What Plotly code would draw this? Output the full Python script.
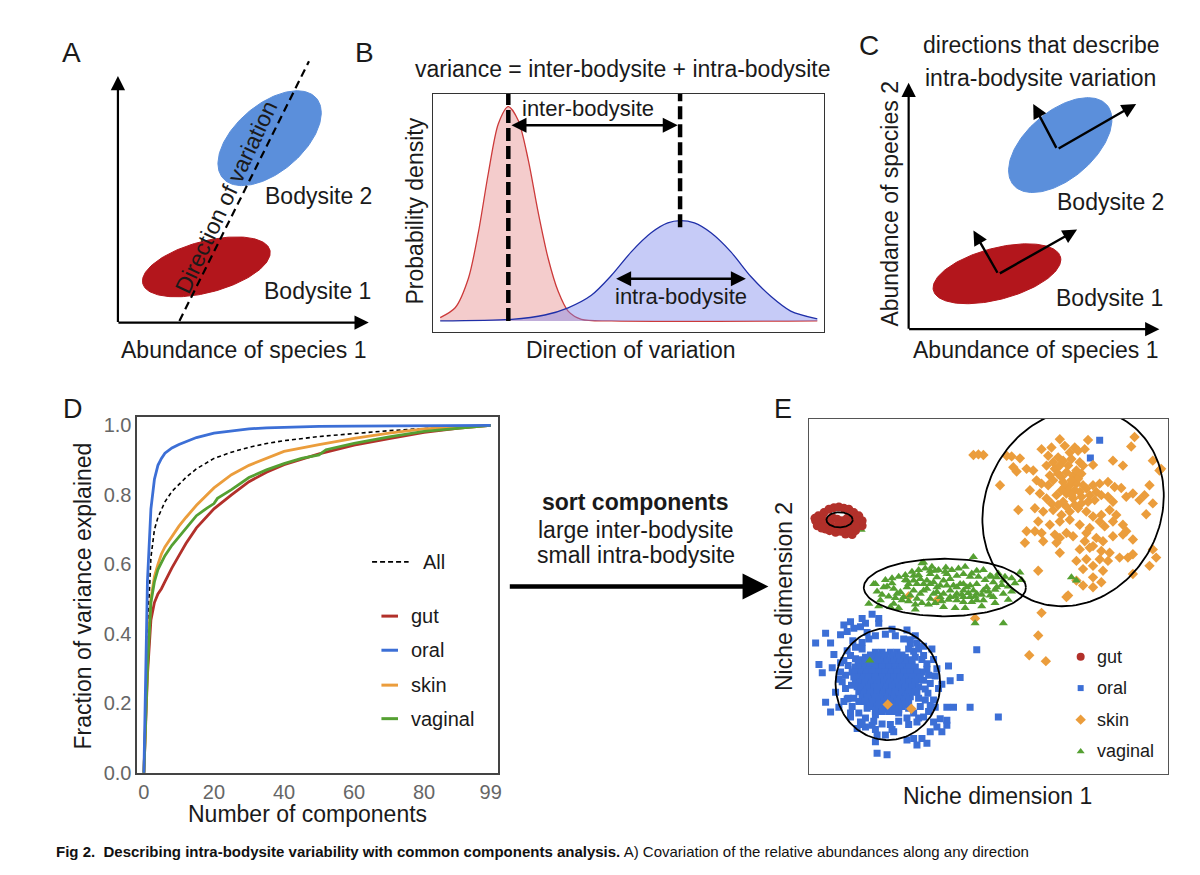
import math
import plotly.graph_objects as go

W, H = 1200, 875          # reference picture size
OFF = 8                   # page body margin of the html page
FW, FH = W - 2 * OFF, H - 2 * OFF
FONT = "Liberation Sans, Arial, Helvetica, sans-serif"
TXT = "#1a1a1a"

# ---------------- Panel D : cumulative fraction of variance ----------------
d_x = [0, 1, 2, 3, 4, 5, 6, 8, 10, 12, 15, 20, 25, 30, 35, 40, 50, 60, 70, 80, 90, 99]
d_all = [0, 0.40, 0.62, 0.70, 0.735, 0.76, 0.78, 0.81, 0.83, 0.85, 0.875, 0.905, 0.923, 0.937, 0.948, 0.956, 0.968, 0.977, 0.985, 0.991, 0.996, 1.0]
d_gut = [0, 0.28, 0.44, 0.49, 0.515, 0.53, 0.55, 0.59, 0.625, 0.66, 0.705, 0.76, 0.80, 0.838, 0.865, 0.887, 0.918, 0.943, 0.962, 0.98, 0.992, 1.0]
d_oral = [0, 0.55, 0.76, 0.845, 0.885, 0.905, 0.92, 0.935, 0.945, 0.953, 0.965, 0.978, 0.985, 0.99, 0.993, 0.995, 0.997, 0.998, 0.999, 1.0, 1.0, 1.0]
d_skin = [0, 0.33, 0.50, 0.565, 0.60, 0.63, 0.65, 0.68, 0.71, 0.735, 0.77, 0.82, 0.858, 0.885, 0.905, 0.925, 0.945, 0.963, 0.978, 0.99, 0.996, 1.0]
d_x_vag = [0, 1, 2, 3, 4, 5, 6, 8, 10, 12, 15, 18, 20, 21, 25, 30, 35, 40, 45, 50, 52, 60, 70, 80, 90, 99]
d_vag = [0, 0.30, 0.49, 0.55, 0.585, 0.605, 0.625, 0.655, 0.68, 0.705, 0.74, 0.762, 0.775, 0.79, 0.815, 0.85, 0.872, 0.89, 0.905, 0.915, 0.93, 0.948, 0.967, 0.983, 0.993, 1.0]
d_xticks = [0, 20, 40, 60, 80, 99]
d_yticks = [0.0, 0.2, 0.4, 0.6, 0.8, 1.0]

sites = ["gut", "oral", "skin", "vaginal"]
site_colors = {"gut": "#b2302a", "oral": "#3c6fd6", "skin": "#eb9d3c", "vaginal": "#55a032"}

# ---------------- Panel E : niche space (arbitrary units) ----------------
gut_pts = [(20, 770), (28, 785), (35, 755), (45, 795), (50, 745), (60, 805), (62, 740), (75, 810), (80, 735),
           (90, 812), (95, 738), (105, 808), (110, 730), (120, 805), (130, 728), (135, 795), (140, 740),
           (150, 785), (155, 765), (160, 755), (145, 770), (40, 775), (55, 770), (70, 780), (85, 775),
           (100, 770), (115, 778), (125, 765), (65, 760), (90, 758), (110, 755), (130, 780), (30, 765),
           (45, 760), (25, 755), (160, 770), (18, 778), (38, 748), (72, 745), (100, 745), (122, 742), (140, 752)]

vag_pts = [(495, 660), (412, 628), (340, 641), (315, 603), (365, 608), (385, 598), (405, 588), (425, 593),
           (445, 603), (465, 608), (485, 600), (505, 618), (525, 620), (545, 603), (565, 598), (585, 588),
           (635, 613), (195, 578), (225, 568), (255, 563), (275, 553), (295, 568), (315, 558), (335, 548),
           (355, 563), (375, 548), (395, 538), (405, 508), (425, 558), (445, 548), (465, 558), (485, 538),
           (505, 528), (525, 528), (545, 543), (585, 548), (565, 568), (180, 518), (215, 528), (255, 518),
           (245, 508), (295, 588), (325, 578), (345, 578), (365, 578), (385, 568), (415, 573), (435, 573),
           (455, 578), (475, 568), (495, 558), (505, 578), (535, 568), (555, 583), (265, 548), (285, 538),
           (305, 543), (325, 533), (365, 533), (445, 528), (465, 523), (490, 523), (405, 548), (315, 588),
           (335, 593), (355, 588), (375, 583), (395, 573), (445, 568), (465, 578), (485, 573), (300, 578),
           (345, 558), (385, 553), (425, 538), (465, 538), (505, 548), (525, 558), (345, 643), (380, 618),
           (365, 618), (200, 578), (235, 570), (415, 608), (500, 458), (585, 458), (790, 598), (805, 588),
           (183, 345), (157, 743), (555, 538),
           (230, 590), (250, 595), (270, 600), (290, 605), (310, 615), (330, 620), (350, 625), (370, 630),
           (390, 620), (410, 615), (430, 620), (450, 625), (470, 630), (490, 610), (510, 600), (530, 590),
           (550, 600), (570, 610), (590, 600), (610, 595), (620, 580), (600, 570), (580, 575), (560, 560),
           (540, 555), (520, 545), (500, 540), (480, 550), (460, 545), (440, 540), (420, 530), (400, 525),
           (380, 520), (360, 515), (340, 520), (320, 515), (300, 525), (280, 528), (260, 535), (240, 540),
           (220, 545), (205, 555), (210, 510), (270, 505), (320, 500), (440, 505), (470, 505), (520, 510),
           (560, 520), (600, 530), (610, 555), (640, 590), (330, 605), (290, 590), (250, 580)]

skin_pts = [(495, 970), (510, 972), (525, 970),
            (755, 1018), (800, 993), (840, 1016), (980, 1025), (970, 996), (700, 988), (730, 993), (770, 998),
            (785, 978), (810, 983), (830, 988),
            (595, 968), (610, 966), (635, 960), (655, 928), (625, 920), (615, 933), (675, 923), (720, 968),
            (750, 963), (765, 953), (790, 958), (815, 948), (825, 938), (855, 940), (915, 953), (945, 938),
            (1035, 953), (1060, 928),
            (575, 878), (685, 893), (700, 883), (720, 878), (735, 893), (765, 888), (785, 878), (805, 883),
            (835, 868), (855, 878), (875, 883), (900, 888), (920, 873), (940, 870),
            (975, 853), (1010, 848), (1025, 878), (665, 863), (695, 853), (715, 838), (745, 848), (775, 853),
            (795, 838), (820, 843), (840, 828), (860, 833), (880, 848), (900, 843), (915, 828), (955, 843),
            (995, 833), (1035, 823),
            (630, 803), (680, 808), (705, 798), (735, 803), (760, 788), (785, 798), (810, 808), (835, 798),
            (855, 783), (880, 788), (905, 803), (925, 788), (1015, 790),
            (690, 768), (725, 758), (755, 768), (785, 773), (815, 758), (845, 748), (875, 768), (890, 753),
            (915, 768), (945, 758), (955, 738),
            (655, 738), (680, 738), (700, 733), (740, 728), (755, 718), (775, 733), (795, 723), (835, 733),
            (865, 718), (885, 708), (915, 723), (945, 728), (975, 713),
            (650, 703), (705, 708), (745, 703), (830, 708), (855, 693), (975, 668),
            (755, 673), (815, 683), (845, 688), (880, 678), (905, 673), (1035, 683), (1045, 658),
            (805, 648), (835, 653), (875, 653), (900, 648), (935, 658), (960, 658),
            (690, 618), (825, 623), (855, 633), (885, 618), (975, 608), (1025, 633),
            (855, 598), (880, 583), (825, 573), (855, 568), (805, 588), (780, 543),
            (740, 928), (750, 913), (760, 903), (775, 918), (795, 908), (805, 923), (725, 908), (715, 938),
            (735, 948), (755, 938), (780, 938), (810, 898), (820, 913), (790, 893), (770, 873), (780, 863),
            (760, 863), (800, 863), (815, 858), (825, 878), (790, 848), (765, 828), (775, 813), (750, 818),
            (730, 823), (820, 823), (800, 818), (845, 848), (865, 858),
            (1055, 923), (775, 538), (700, 490), (690, 421), (663, 361), (713, 343), (237, 211), (308, 198),
            (300, 540), (385, 528), (500, 473)]

oral_pts = [(20, 398), (50, 428), (65, 398), (95, 423), (105, 453), (115, 433), (135, 443), (160, 473),
            (170, 458), (190, 486), (210, 473), (155, 448), (125, 463), (30, 333), (40, 308), (75, 363),
            (70, 323), (95, 338), (90, 288), (80, 248), (50, 218), (65, 188), (90, 203), (115, 228),
            (125, 173), (155, 158), (145, 138), (170, 143), (190, 148), (205, 118), (200, 98), (230, 118),
            (255, 128), (295, 103), (315, 108), (340, 108), (355, 93), (325, 88), (365, 128), (385, 143),
            (395, 168), (415, 163), (400, 128), (415, 148), (375, 158), (205, 63), (235, 58), (295, 438),
            (305, 408), (325, 398), (345, 388), (315, 373), (340, 348), (355, 318), (375, 348), (380, 298),
            (400, 273), (425, 283), (455, 293), (420, 328), (415, 203), (435, 203), (485, 203), (505, 378),
            (350, 258), (325, 248), (365, 208), (380, 203), (345, 173), (325, 158), (875, 1015), (847, 961),
            (570, 173), (210, 458),
            (110, 300), (118, 330), (125, 360), (140, 385), (160, 400), (180, 410), (200, 420), (230, 425),
            (260, 420), (285, 410), (305, 395), (330, 380), (345, 360), (355, 335), (360, 300), (365, 275),
            (358, 245), (350, 225), (335, 205), (315, 185), (295, 170), (270, 160), (245, 150), (220, 152),
            (195, 160), (170, 170), (150, 185), (130, 205), (118, 230), (110, 260), (100, 280), (95, 310),
            (105, 345), (115, 375), (132, 405), (175, 430), (250, 440), (320, 420), (370, 380), (385, 320),
            (390, 260), (375, 225), (360, 190), (330, 170), (300, 150), (250, 135), (200, 135), (160, 150),
            (125, 185), (105, 220), (135, 230), (128, 270), (140, 350), (160, 380), (300, 380), (320, 355),
            (340, 310), (345, 285), (330, 230), (300, 200), (270, 185), (200, 180), (175, 200), (150, 220)]
# dense core of the oral cloud, read row by row (y: list of x)
oral_core_rows = {
    370: [200, 220, 245, 265],
    362: [185, 205, 228, 255, 280],
    355: [170, 190, 210, 230, 250, 270, 290],
    347: [160, 178, 193, 208, 225, 245, 265, 285, 302],
    340: [150, 170, 185, 200, 215, 235, 255, 275, 295, 310],
    332: [148, 162, 178, 193, 210, 230, 250, 270, 290, 310],
    325: [140, 155, 170, 185, 200, 220, 240, 260, 280, 300, 320],
    317: [138, 152, 168, 182, 200, 220, 240, 258, 275, 295, 315],
    310: [130, 145, 160, 175, 190, 210, 230, 250, 265, 285, 305, 325],
    302: [140, 157, 172, 190, 210, 230, 248, 265, 285, 305, 325],
    295: [135, 150, 165, 180, 200, 220, 240, 255, 275, 295, 315, 335],
    287: [145, 162, 178, 198, 218, 235, 255, 275, 292, 310, 328],
    280: [140, 155, 170, 190, 210, 225, 245, 265, 285, 300, 320],
    272: [150, 168, 186, 205, 225, 242, 260, 280, 300, 318],
    265: [145, 160, 180, 195, 215, 235, 250, 270, 290, 310, 330],
    257: [158, 176, 195, 215, 232, 250, 270, 290, 310],
    250: [150, 170, 185, 205, 225, 240, 260, 280, 300, 320],
    242: [165, 185, 205, 222, 240, 260, 280, 298],
    235: [160, 175, 195, 215, 230, 250, 270, 290, 305],
    227: [178, 198, 218, 235, 255, 275, 292],
    220: [170, 190, 210, 225, 245, 265, 285, 300],
    212: [192, 212, 235, 252, 270, 290],
    205: [185, 205, 225, 245, 260, 280],
    197: [210, 230, 250, 270],
    190: [200, 220, 240, 260],
}
# ellipses drawn round each body site: centre x, centre y, semi-axis a, semi-axis b, angle (deg)
e_ellipses = {"gut": (92, 773, 39.5, 23, 0), "vaginal": (409, 567, 244, 87.5, 0),
              "oral": (237.5, 273, 157.5, 170, 0), "skin": (795, 810, 308, 264, 64)}

# ---------------- Panel B : schematic densities ----------------
b_red_x = [23, 68, 108, 138, 168, 198, 228, 258, 288, 318, 348, 378, 408, 448, 538, 1158]
b_red_y = [10, 40, 130, 270, 450, 600, 652, 610, 490, 330, 190, 90, 30, 5, 0, 0]
b_blue_x = [23, 238, 338, 408, 478, 538, 598, 658, 708, 745, 788, 838, 898, 958, 1018, 1078, 1158]
b_blue_y = [0, 5, 18, 40, 78, 138, 210, 268, 298, 305, 298, 268, 210, 135, 75, 30, 6]
b_means = [228, 745]
b_mean_bottom = [0, 285]
b_top = 690

# ---------------- Panels A / C : schematic ellipses (picture px units) ----------------
a_ellipses = [(207, 268.5, 66, 26, 15, "#b3161c"), (270.5, 138, 62, 34, 41, "#5b8fdb")]
c_ellipses = [(1000.3, 275.5, 66, 26, 15, "#b3161c"), (1063.8, 145, 62, 34, 41, "#5b8fdb")]
a_dir_line = ([180, 310], [323.3, 60])
c_vectors = [((1060.7, 149.3), (1140, 103.3)), ((1060.7, 149.3), (1036.7, 103.3)),
             ((1001.7, 276), (1080.7, 230.7)), ((1001.7, 276), (976.7, 231.7))]


def ellipse(cx, cy, a, b, deg, ysign, n=160):
    th = math.radians(deg)
    xs, ys = [], []
    for i in range(n + 1):
        t = 2 * math.pi * i / n
        ex, ey = a * math.cos(t), b * math.sin(t)
        xs.append(cx + ex * math.cos(th) - ey * math.sin(th))
        ys.append(cy + ysign * (ex * math.sin(th) + ey * math.cos(th)))
    return xs, ys


fig = go.Figure()

# ---- D traces
fig.add_trace(go.Scatter(x=d_x, y=d_all, mode="lines", line=dict(color="black", width=1.6, dash="4px,3px"),
                         xaxis="x", yaxis="y", showlegend=False))
for name, xs, ys in [("gut", d_x, d_gut), ("skin", d_x, d_skin), ("vaginal", d_x_vag, d_vag), ("oral", d_x, d_oral)]:
    fig.add_trace(go.Scatter(x=xs, y=ys, mode="lines", line=dict(color=site_colors[name], width=2.8),
                             xaxis="x", yaxis="y", showlegend=False))

# ---- E traces
oral_all = list(oral_pts) + [(x, y) for y, xs in oral_core_rows.items() for x in xs]
for name, pts, sym, size in [("oral", oral_all, "square", 7), ("skin", skin_pts, "diamond", 8),
                             ("vaginal", vag_pts, "triangle-up", 8), ("gut", gut_pts, "circle", 9)]:
    fig.add_trace(go.Scatter(x=[p[0] for p in pts], y=[p[1] for p in pts], mode="markers",
                             marker=dict(symbol=sym, size=size, color=site_colors[name], line=dict(width=0)),
                             xaxis="x2", yaxis="y2", showlegend=False))
for name in ["gut", "vaginal", "oral", "skin"]:
    cx, cy, a, b, deg = e_ellipses[name]
    ex, ey = ellipse(cx, cy, a, b, deg, 1)
    fig.add_trace(go.Scatter(x=ex, y=ey, mode="lines", line=dict(color="black", width=1.8),
                             xaxis="x2", yaxis="y2", showlegend=False))

# ---- B traces
fig.add_trace(go.Scatter(x=b_red_x, y=b_red_y, mode="lines", line=dict(color="#cc3a3a", width=1.3, shape="spline", smoothing=0.8),
                         fill="tozeroy", fillcolor="rgba(226,120,120,0.38)", xaxis="x3", yaxis="y3", showlegend=False))
fig.add_trace(go.Scatter(x=b_blue_x, y=b_blue_y, mode="lines", line=dict(color="#1f2fa8", width=1.3, shape="spline", smoothing=0.8),
                         fill="tozeroy", fillcolor="rgba(120,130,235,0.42)", xaxis="x3", yaxis="y3", showlegend=False))
for mx, mb in zip(b_means, b_mean_bottom):
    fig.add_trace(go.Scatter(x=[mx, mx], y=[mb, b_top], mode="lines", line=dict(color="black", width=4.5, dash="13px,5px"),
                             xaxis="x3", yaxis="y3", showlegend=False))

# ---- A / C schematic (canvas)
for cx, cy, a, b, deg, col in a_ellipses + c_ellipses:
    ex, ey = ellipse(cx, cy, a, b, deg, -1)
    fig.add_trace(go.Scatter(x=ex, y=ey, mode="lines", fill="toself", fillcolor=col, line=dict(color=col, width=1),
                             xaxis="x4", yaxis="y4", showlegend=False))
fig.add_trace(go.Scatter(x=a_dir_line[0], y=a_dir_line[1], mode="lines", line=dict(color="black", width=2.2, dash="8px,5px"),
                         xaxis="x4", yaxis="y4", showlegend=False))

# ---- legends (canvas)
leg_d_y = {"gut": 622.7, "oral": 657.3, "skin": 692.7, "vaginal": 726.7}
fig.add_trace(go.Scatter(x=[373.3, 410], y=[567.7, 567.7], mode="lines", line=dict(color="black", width=1.8, dash="5px,3px"),
                         xaxis="x4", yaxis="y4", showlegend=False))
for s in sites:
    fig.add_trace(go.Scatter(x=[382.7, 399.3], y=[leg_d_y[s]] * 2, mode="lines", line=dict(color=site_colors[s], width=3),
                             xaxis="x4", yaxis="y4", showlegend=False))
leg_e_y = {"gut": 664, "oral": 695.7, "skin": 727.7, "vaginal": 760}
leg_e_sym = {"gut": ("circle", 8), "oral": ("square", 6), "skin": ("diamond", 8), "vaginal": ("triangle-up", 7)}
for s in sites:
    fig.add_trace(go.Scatter(x=[1084.3], y=[leg_e_y[s]], mode="markers",
                             marker=dict(symbol=leg_e_sym[s][0], size=leg_e_sym[s][1], color=site_colors[s]),
                             xaxis="x4", yaxis="y4", showlegend=False))

ann = []


def txt(x, y, s, size=23, angle=0, xanchor="center", color=TXT, family=FONT):
    ann.append(dict(x=x, y=y, xref="x4", yref="y4", text=s, showarrow=False, textangle=angle,
                    xanchor=xanchor, yanchor="middle", font=dict(family=family, size=size, color=color)))


def arrow(tail, tip, width=2.2, size=1.3, both=False, ref="x4", yref="y4"):
    d = dict(x=tip[0], y=tip[1], ax=tail[0], ay=tail[1], xref=ref, yref=yref, axref=ref, ayref=yref,
             text="", showarrow=True, arrowhead=2, arrowsize=size, arrowwidth=width, arrowcolor="black", standoff=0)
    if both:
        d.update(arrowside="end+start", startarrowhead=2, startarrowsize=size, startstandoff=0)
    ann.append(d)


# panel letters
txt(72, 51, "A", 28)
txt(365.5, 51, "B", 28)
txt(871.7, 44, "C", 28)
txt(73.5, 412.5, "D", 27)
txt(785.5, 412.5, "E", 27)

# A
txt(319.5, 196.7, "Bodysite 2")
txt(318.7, 292.7, "Bodysite 1")
txt(245, 353, "Abundance of species 1")
txt(226.7, 197.5, "Direction of variation", angle=-64.8)
arrow((118.3, 326), (118.3, 75))
arrow((117.3, 325), (370, 325))

# B
txt(625, 68.3, "variance = inter-bodysite + intra-bodysite")
txt(416.7, 212, "Probability density", 23, angle=-90)
txt(633.3, 353.3, "Direction of variation")
txt(590, 108.3, "inter-bodysite", 22)
txt(683.3, 298.3, "intra-bodysite", 22)
arrow((233, 595), (738, 595), width=2.5, size=1.2, both=True, ref="x3", yref="y3")
arrow((548, 128), (943, 128), width=2.5, size=1.2, both=True, ref="x3", yref="y3")

# C
txt(1045, 43.3, "directions that describe")
txt(1044, 76.7, "intra-bodysite variation")
txt(893.3, 204, "Abundance of species 2", angle=-90)
txt(1039, 353.3, "Abundance of species 1")
txt(1114, 202.7, "Bodysite 2")
txt(1113, 300, "Bodysite 1")
arrow((911.7, 332.7), (911.7, 81.7))
arrow((910.7, 331.7), (1163.3, 331.7))
for tail, tip in c_vectors:
    arrow(tail, tip, width=2.4, size=1.2)

# D
txt(83, 602, "Fraction of variance explained", angle=-90)
txt(309, 823, "Number of components")
txt(422.7, 567.7, "All", 20, xanchor="left")
for s in sites:
    txt(410, leg_d_y[s], s, 20, xanchor="left")

# middle
txt(638, 506.7, "<b>sort components</b>")
txt(638, 535, "large inter-bodysite")
txt(638, 561, "small intra-bodysite")
arrow((510, 592.7), (771, 592.7), width=4.5, size=1.15)

# E
txt(1000.8, 805, "Niche dimension 1")
txt(786.7, 603.3, "Niche dimension 2", angle=-90)
for s in sites:
    txt(1098.3, leg_e_y[s], s, 18, xanchor="left")

# caption
txt(54, 861, "<b>Fig 2.  Describing intra-bodysite variability with common components analysis.</b> "
             "A) Covariation of the relative abundances along any direction", 15, xanchor="left",
    family="Liberation Sans Narrow, Arial Narrow, Liberation Sans, Arial, sans-serif", color="#111")


def dom_x(a, b):
    return [(a - OFF) / FW, (b - OFF) / FW]


def dom_y(top, bottom):
    return [1 - (bottom - OFF) / FH, 1 - (top - OFF) / FH]


frame = dict(showline=True, mirror=True, showgrid=False, zeroline=False, ticks="")
fig.update_layout(
    width=FW, height=FH, margin=dict(l=0, r=0, t=0, b=0),
    paper_bgcolor="white", plot_bgcolor="rgba(0,0,0,0)",
    font=dict(family=FONT, color=TXT),
    xaxis=dict(domain=dom_x(137.7, 499.3), range=[-1.9, 101], anchor="y", tickvals=d_xticks,
               ticktext=[str(v) for v in d_xticks], tickfont=dict(size=20, color="#666"),
               linecolor="#444", linewidth=1.5, fixedrange=True, **frame),
    yaxis=dict(domain=dom_y(420.7, 782.3), range=[-0.002, 1.0244], anchor="x", tickvals=d_yticks,
               ticktext=["%.1f" % v for v in d_yticks], tickfont=dict(size=20, color="#666"),
               linecolor="#444", linewidth=1.5, fixedrange=True, **frame),
    xaxis2=dict(domain=dom_x(811.7, 1171.7), range=[0, 1080], anchor="y2", showticklabels=False,
                linecolor="#555", linewidth=1.2, fixedrange=True, **frame),
    yaxis2=dict(domain=dom_y(422.7, 782.7), range=[0, 1080], anchor="x2", showticklabels=False,
                linecolor="#555", linewidth=1.2, fixedrange=True, **frame),
    xaxis3=dict(domain=dom_x(434, 826.7), range=[0, 1178], anchor="y3", showticklabels=False,
                linecolor="#333", linewidth=1.3, fixedrange=True, **frame),
    yaxis3=dict(domain=dom_y(93.3, 335), range=[-35, 690], anchor="x3", showticklabels=False,
                linecolor="#333", linewidth=1.3, fixedrange=True, **frame),
    xaxis4=dict(domain=[0, 1], range=[OFF, W - OFF], anchor="y4", visible=False, fixedrange=True),
    yaxis4=dict(domain=[0, 1], range=[H - OFF, OFF], anchor="x4", visible=False, fixedrange=True),
    annotations=ann,
)

fig.write_html("out.html")
